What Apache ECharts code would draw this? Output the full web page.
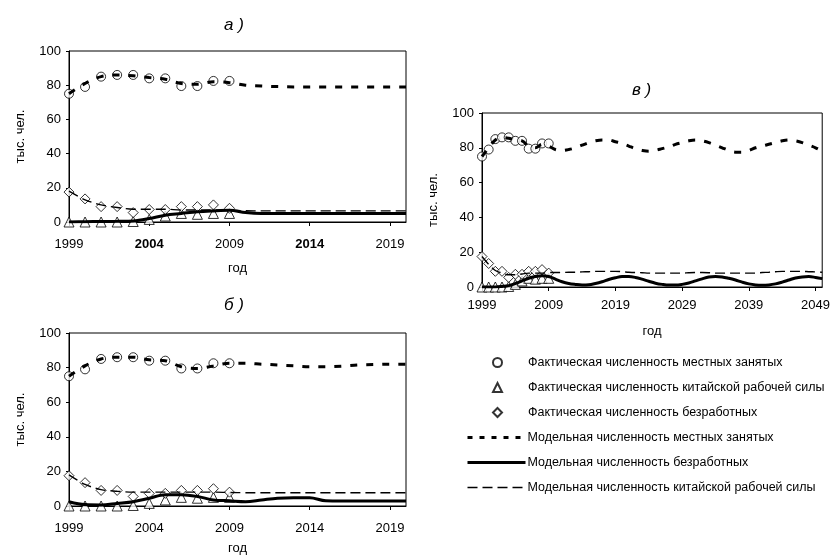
<!DOCTYPE html>
<html>
<head>
<meta charset="utf-8">
<title>Численность занятых и безработных</title>
<script src="https://cdn.jsdelivr.net/npm/echarts@6/dist/echarts.min.js"></script>
<style>
  html, body { margin: 0; padding: 0; background: #fff; }
  #chart { width: 833px; height: 556px; }
</style>
</head>
<body>
<div id="chart"></div>
<script>
// годы для панелей а) и б)
const yearsShort = [1999, 2000, 2001, 2002, 2003, 2004, 2005, 2006, 2007, 2008, 2009,
  2010, 2011, 2012, 2013, 2014, 2015, 2016, 2017, 2018, 2019, 2020]
// годы для панели в)
const yearsLong = [1999, 2000, 2001, 2002, 2003, 2004, 2005, 2006, 2007, 2008, 2009,
  2010, 2011, 2012, 2013, 2014, 2015, 2016, 2017, 2018, 2019, 2020, 2021, 2022, 2023,
  2024, 2025, 2026, 2027, 2028, 2029, 2030, 2031, 2032, 2033, 2034, 2035, 2036, 2037,
  2038, 2039, 2040, 2041, 2042, 2043, 2044, 2045, 2046, 2047, 2048, 2049, 2050]
const yTicks = [0, 20, 40, 60, 80, 100]

// фактические данные 1999-2009
const factLocal = [75, 79, 85, 86, 86, 84, 84, 79.5, 79.5, 82.5, 82.5]
const factChina = [0, 0, 0, 0, 0.3, 1.5, 3.5, 5, 4.5, 5, 5]
const factUnemp = [17.5, 13.5, 9, 9, 5.5, 7.3, 7.3, 9, 9, 10, 8]

// панель а)
const modelLocalA = [75, 81, 85, 86, 85.5, 84.5, 83.5, 81, 80.5, 82, 81.5, 80, 79.5, 79.2, 79, 79, 79, 79, 79, 79, 79, 79]
const modelUnempA = [0, 0.2, 0.3, 0.4, 0.6, 2, 4, 5, 6, 6.5, 6.8, 5.5, 5, 5, 5, 5, 5, 5, 5, 5, 5, 5]
const modelChinaA = [18, 13, 10, 8.5, 7.5, 7.5, 7.5, 7, 7, 7, 6.8, 6.6, 6.5, 6.5, 6.5, 6.5, 6.5, 6.5, 6.5, 6.5, 6.5, 6.5]

// панель б)
const modelLocalB = [75, 81, 85, 86, 86, 84.5, 84, 80.5, 79.5, 81, 82.5, 82.5, 82, 81.5, 81, 80.5, 80.5, 80.8, 81.5, 81.8, 82, 82]
const modelUnempB = [2.5, 0.8, 0.6, 1.5, 2.5, 4.5, 6.5, 6.5, 5.5, 3.5, 3, 2.5, 3.5, 4.5, 4.8, 4.8, 3, 2.9, 2.9, 2.9, 2.9, 2.9]
const modelChinaB = [18, 12.5, 9.5, 8.5, 8, 8, 8, 8, 8, 8, 7.8, 7.7, 7.7, 7.7, 7.7, 7.7, 7.7, 7.7, 7.7, 7.7, 7.7, 7.7]

// панель в)
const modelLocalC = [75, 80, 84.5, 86, 85.5, 84.5, 84, 81, 80, 82, 81, 79, 78.5, 79, 80, 81.5, 83, 84,
  84.5, 84.5, 83.5, 82.5, 81, 79.5, 78.5, 78, 78.5, 79.5, 80.5, 82, 83, 84, 84.5, 84, 83, 81.5,
  80, 78.5, 77.5, 77.5, 78.5, 80, 81, 82, 83, 84, 84.5, 84, 83, 81.5, 80, 78]
const modelUnempC = [0, 0, 0, 0.3, 0.8, 2, 3.5, 5, 6, 6.5, 6, 4.5, 3, 2, 1.5, 1.2, 1.3, 2, 3, 4.3,
  5.3, 6, 6, 5.5, 4.5, 3.3, 2.2, 1.5, 1.1, 1.1, 1.5, 2.3, 3.5, 4.7, 5.7, 6, 5.8, 5, 4, 2.8, 1.8,
  1.2, 1, 1.2, 1.8, 2.8, 4, 5.2, 5.8, 6, 5.5, 4.8]
const modelChinaC = [17.5, 13, 9.5, 8, 7, 7, 7.5, 8, 8, 8, 8.3, 8.3, 8.3, 8.5, 8.5, 8.7, 8.8, 9, 9, 9,
  9, 8.8, 8.5, 8.3, 8.2, 8, 8, 8, 8, 8, 8, 8.2, 8.3, 8.3, 8.2, 8, 8, 8, 8, 8, 8, 8, 8.3, 8.5,
  8.8, 9, 9, 9, 9, 8.8, 8.7, 8.5]

const names = {
  factLocal: 'Фактическая численность местных занятых',
  factChina: 'Фактическая численность китайской рабочей силы',
  factUnemp: 'Фактическая численность безработных',
  modelLocal: 'Модельная численность местных занятых',
  modelUnemp: 'Модельная численность безработных',
  modelChina: 'Модельная численность китайской рабочей силы',
}

const FONT = 'Liberation Sans, Arial, sans-serif'
const chart = echarts.init(document.getElementById('chart'))

// сетки трёх панелей
const grids = [
  { left: 69, top: 51, width: 337, height: 171 },
  { left: 69, top: 333, width: 337, height: 173 },
  { left: 482, top: 113, width: 342, height: 174 },
]

const makeX = (idx, data, step, gap, boldYears) => ({
  type: 'category',
  gridIndex: idx,
  data: data,
  boundaryGap: false,
  name: 'год',
  nameLocation: 'middle',
  nameGap: gap,
  nameTextStyle: { color: '#000', fontSize: 13, fontFamily: FONT },
  axisLine: { lineStyle: { color: '#000', width: 1 } },
  axisTick: { interval: step - 1, length: 4, lineStyle: { color: '#000' } },
  axisLabel: {
    interval: step - 1,
    margin: idx === 2 ? 12 : 16,
    color: '#000',
    fontSize: 13,
    fontFamily: FONT,
    formatter: (v) => (boldYears.indexOf(Number(v)) >= 0 ? '{b|' + v + '}' : v),
    rich: { b: { fontWeight: 'bold', fontSize: 13, fontFamily: FONT, color: '#000' } },
  },
  splitLine: { show: false },
})

const makeY = (idx, gap) => ({
  type: 'value',
  gridIndex: idx,
  min: yTicks[0],
  max: yTicks[yTicks.length - 1],
  interval: 20,
  name: 'тыс. чел.',
  nameLocation: 'middle',
  nameRotate: 90,
  nameGap: gap,
  nameTextStyle: { color: '#000', fontSize: 13, fontFamily: FONT },
  axisLine: { show: true, lineStyle: { color: '#000', width: 1 } },
  axisTick: { show: true, length: 3, lineStyle: { color: '#000' } },
  axisLabel: { margin: 8, color: '#000', fontSize: 13, fontFamily: FONT },
  splitLine: { show: false },
})

const symbolStyle = { color: '#fff', borderColor: '#000', borderWidth: 1 }

const scatter = (idx, name, symbol, data) => ({
  type: 'scatter',
  name: name,
  xAxisIndex: idx,
  yAxisIndex: idx,
  symbol: symbol,
  symbolSize: symbol === 'circle' ? 9 : 10,
  itemStyle: symbolStyle,
  data: data,
})

const line = (idx, name, data, lineStyle) => ({
  type: 'line',
  name: name,
  xAxisIndex: idx,
  yAxisIndex: idx,
  symbol: 'none',
  smooth: 0.35,
  itemStyle: { color: '#000' },
  lineStyle: Object.assign({ color: '#000' }, lineStyle),
  data: data,
})

// пунктиры как на рисунке
const dotStyle = { width: 3, type: [7, 9] }
const solidStyle = { width: 3, type: 'solid' }
const dashStyle = { width: 1.4, type: [10, 5] }

const panel = (idx, local, unemp, china) => [
  scatter(idx, names.factLocal, 'circle', factLocal),
  scatter(idx, names.factChina, 'triangle', factChina),
  scatter(idx, names.factUnemp, 'diamond', factUnemp),
  line(idx, names.modelLocal, local, dotStyle),
  line(idx, names.modelUnemp, unemp, solidStyle),
  line(idx, names.modelChina, china, dashStyle),
]

const titleStyle = { color: '#000', fontSize: 17, fontStyle: 'italic', fontWeight: 'normal', fontFamily: FONT }
const legendText = { color: '#000', fontSize: 12.5, fontFamily: FONT }

const option = {
  backgroundColor: '#fff',
  animation: false,
  title: [
    { text: 'а )', left: 219, top: 12, textStyle: titleStyle },
    { text: 'б )', left: 219, top: 292, textStyle: titleStyle },
    { text: 'в )', left: 627, top: 77, textStyle: titleStyle },
  ],
  grid: grids.map((g) => Object.assign({ show: true, borderColor: '#000', borderWidth: 1, backgroundColor: '#fff' }, g)),
  xAxis: [
    makeX(0, yearsShort, 5, 40, [2004, 2014]),
    makeX(1, yearsShort, 5, 36, []),
    makeX(2, yearsLong, 10, 38, []),
  ],
  yAxis: [makeY(0, 42), makeY(1, 42), makeY(2, 42)],
  legend: [
    {
      // фактические точки
      orient: 'vertical',
      left: 492,
      top: 356,
      itemWidth: 9,
      itemHeight: 9,
      itemGap: 12,
      padding: 0,
      selectedMode: false,
      textStyle: Object.assign({ padding: [0, 0, 0, 21] }, legendText),
      data: [names.factLocal, names.factChina, names.factUnemp],
    },
    {
      // модельные линии
      orient: 'vertical',
      left: 466,
      top: 431,
      itemWidth: 58,
      itemHeight: 10,
      itemGap: 12,
      padding: 0,
      selectedMode: false,
      itemStyle: { opacity: 0 },
      textStyle: Object.assign({ padding: [0, 0, 0, -3] }, legendText),
      data: [
        { name: names.modelLocal, lineStyle: { width: 3, type: [5, 7], color: '#000' } },
        { name: names.modelUnemp, lineStyle: { width: 3, type: 'solid', color: '#000' } },
        { name: names.modelChina, lineStyle: { width: 1.5, type: [10, 5], color: '#000' } },
      ],
    },
  ],
  series: [
    ...panel(0, modelLocalA, modelUnempA, modelChinaA),
    ...panel(1, modelLocalB, modelUnempB, modelChinaB),
    ...panel(2, modelLocalC, modelUnempC, modelChinaC),
  ],
}

chart.setOption(option)
</script>
</body>
</html>
